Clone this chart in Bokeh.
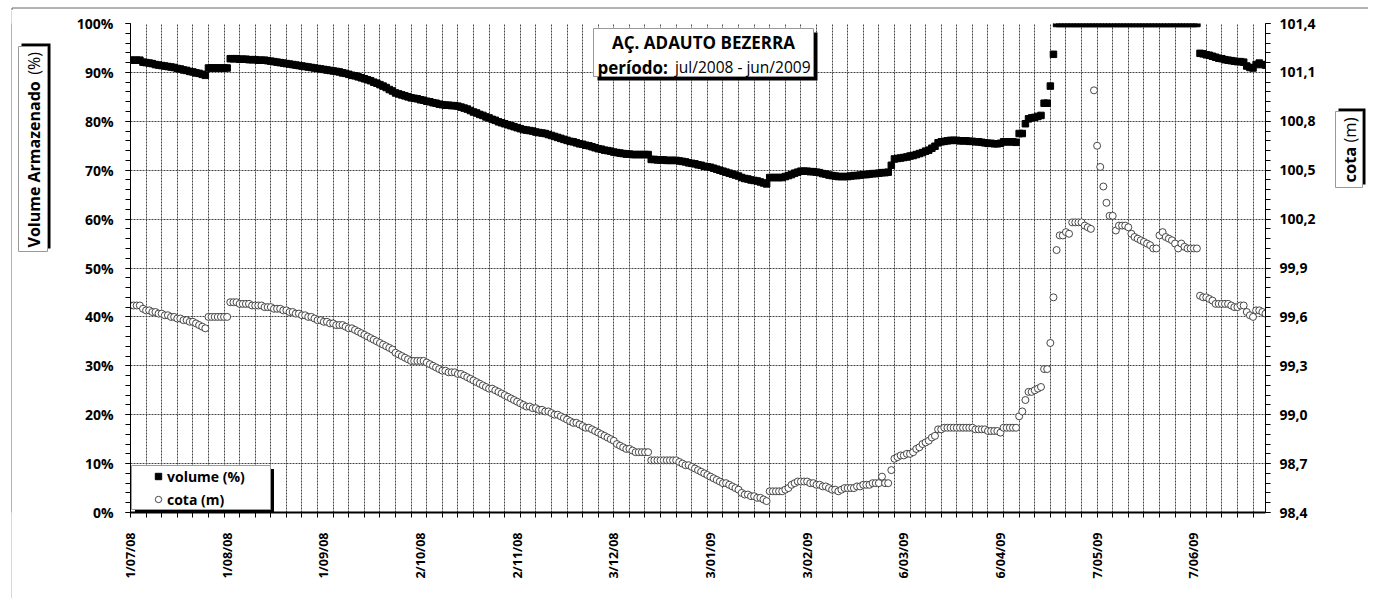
import math
from bokeh.plotting import figure
from bokeh.layouts import row, column
from bokeh.models import (Range1d, LinearAxis, FixedTicker, CustomJSTickFormatter,
                          BoxAnnotation, Label, Legend, LegendItem, Spacer)
from bokeh.embed import file_html
from bokeh.resources import INLINE

# ---------------- data ----------------
date_label_days = [0, 31, 62, 93, 124, 155, 186, 217, 248, 279, 310, 341]
date_labels = ["1/07/08", "1/08/08", "1/09/08", "2/10/08", "2/11/08", "3/12/08",
               "3/01/09", "3/02/09", "6/03/09", "6/04/09", "7/05/09", "7/06/09"]

volume_ticks = [0, 10, 20, 30, 40, 50, 60, 70, 80, 90, 100]
cota_ticks = [98.4, 98.7, 99.0, 99.3, 99.6, 99.9, 100.2, 100.5, 100.8, 101.1, 101.4]

# volume armazenado (%), one value per day from 1/07/08
volume = [
    92.5, 92.5, 92.5, 92.5, 92.1, 92.0, 91.9, 91.8, 91.6, 91.5,
    91.4, 91.3, 91.2, 91.1, 91.0, 90.8, 90.7, 90.5, 90.4, 90.2,
    90.1, 89.9, 89.8, 89.6, 89.4, 90.9, 90.9, 90.9, 90.9, 90.9,
    90.9, 90.9, 92.8, 92.8, 92.8, 92.7, 92.7, 92.7, 92.6, 92.6,
    92.6, 92.5, 92.5, 92.5, 92.4, 92.3, 92.2, 92.1, 92.0, 91.9,
    91.8, 91.7, 91.6, 91.5, 91.4, 91.3, 91.2, 91.1, 91.0, 90.9,
    90.8, 90.7, 90.6, 90.5, 90.4, 90.3, 90.2, 90.1, 89.9, 89.8,
    89.6, 89.4, 89.3, 89.1, 88.9, 88.7, 88.5, 88.3, 88.0, 87.8,
    87.5, 87.2, 86.9, 86.5, 86.2, 85.8, 85.6, 85.4, 85.2, 85.0,
    84.8, 84.7, 84.6, 84.4, 84.3, 84.1, 84.0, 83.8, 83.7, 83.5,
    83.4, 83.3, 83.3, 83.2, 83.2, 83.1, 82.9, 82.7, 82.5, 82.2,
    81.9, 81.7, 81.4, 81.2, 80.9, 80.7, 80.4, 80.2, 79.9, 79.7,
    79.5, 79.3, 79.1, 78.9, 78.7, 78.5, 78.3, 78.2, 78.1, 78.0,
    77.8, 77.7, 77.6, 77.5, 77.3, 77.1, 76.9, 76.7, 76.5, 76.3,
    76.1, 75.9, 75.8, 75.6, 75.4, 75.3, 75.1, 75.0, 74.8, 74.6,
    74.4, 74.3, 74.1, 74.0, 73.9, 73.7, 73.6, 73.5, 73.4, 73.3,
    73.3, 73.2, 73.2, 73.2, 73.2, 73.2, 73.2, 72.2, 72.2, 72.1,
    72.1, 72.1, 72.0, 72.0, 72.0, 72.0, 71.9, 71.8, 71.7, 71.5,
    71.4, 71.3, 71.1, 71.0, 70.8, 70.7, 70.6, 70.4, 70.2, 70.0,
    69.8, 69.6, 69.4, 69.2, 69.0, 68.8, 68.5, 68.3, 68.2, 68.0,
    67.9, 67.8, 67.6, 67.4, 67.2, 68.5, 68.5, 68.5, 68.5, 68.5,
    68.7, 68.9, 69.1, 69.4, 69.6, 69.8, 69.8, 69.8, 69.7, 69.7,
    69.6, 69.5, 69.3, 69.2, 69.0, 68.9, 68.8, 68.7, 68.7, 68.7,
    68.7, 68.8, 68.9, 68.9, 69.0, 69.1, 69.1, 69.2, 69.3, 69.3,
    69.4, 69.5, 69.5, 69.6, 71.0, 72.3, 72.4, 72.5, 72.6, 72.7,
    72.9, 73.0, 73.2, 73.4, 73.6, 73.9, 74.1, 74.5, 74.9, 75.6,
    75.8, 75.9, 76.0, 76.1, 76.1, 76.1, 76.0, 76.0, 76.0, 75.9,
    75.9, 75.8, 75.8, 75.7, 75.6, 75.5, 75.5, 75.4, 75.4, 75.5,
    75.8, 75.8, 75.8, 75.8, 75.7, 77.5, 77.5, 79.5, 80.5, 80.7,
    80.8, 81.0, 81.2, 83.7, 83.7, 87.2, 93.7, 100.0, 100.0, 100.0,
    100.0, 100.0, 100.0, 100.0, 100.0, 100.0, 100.0, 100.0, 100.0, 100.0,
    100.0, 100.0, 100.0, 100.0, 100.0, 100.0, 100.0, 100.0, 100.0, 100.0,
    100.0, 100.0, 100.0, 100.0, 100.0, 100.0, 100.0, 100.0, 100.0, 100.0,
    100.0, 100.0, 100.0, 100.0, 100.0, 100.0, 100.0, 100.0, 100.0, 100.0,
    100.0, 100.0, 100.0, 93.9, 93.8, 93.6, 93.5, 93.3, 93.1, 92.9,
    92.8, 92.6, 92.5, 92.4, 92.3, 92.2, 92.2, 92.1, 91.3, 91.0,
    90.9, 91.6, 91.9, 91.6, 91.5,
]

# cota (m), one value per day from 1/07/08
cota = [
    99.67, 99.67, 99.67, 99.67, 99.65, 99.64, 99.64, 99.63, 99.63, 99.62,
    99.62, 99.61, 99.61, 99.60, 99.60, 99.59, 99.59, 99.58, 99.58, 99.57,
    99.57, 99.56, 99.55, 99.54, 99.53, 99.60, 99.60, 99.60, 99.60, 99.60,
    99.60, 99.60, 99.69, 99.69, 99.69, 99.68, 99.68, 99.68, 99.68, 99.67,
    99.67, 99.67, 99.67, 99.66, 99.66, 99.66, 99.65, 99.65, 99.65, 99.64,
    99.64, 99.63, 99.63, 99.62, 99.62, 99.61, 99.61, 99.60, 99.60, 99.59,
    99.58, 99.58, 99.57, 99.57, 99.56, 99.56, 99.55, 99.55, 99.55, 99.54,
    99.53, 99.53, 99.52, 99.51, 99.50, 99.49, 99.48, 99.47, 99.46, 99.45,
    99.44, 99.43, 99.42, 99.41, 99.40, 99.38, 99.37, 99.36, 99.35, 99.34,
    99.33, 99.33, 99.33, 99.33, 99.33, 99.32, 99.31, 99.30, 99.29, 99.28,
    99.27, 99.27, 99.26, 99.26, 99.26, 99.25, 99.25, 99.24, 99.23, 99.22,
    99.21, 99.20, 99.19, 99.18, 99.17, 99.16, 99.16, 99.15, 99.14, 99.13,
    99.12, 99.11, 99.10, 99.09, 99.08, 99.07, 99.06, 99.05, 99.05, 99.04,
    99.04, 99.03, 99.03, 99.02, 99.02, 99.01, 99.00, 99.00, 98.99, 98.98,
    98.97, 98.96, 98.95, 98.95, 98.94, 98.93, 98.92, 98.92, 98.91, 98.90,
    98.89, 98.88, 98.87, 98.86, 98.85, 98.84, 98.82, 98.81, 98.80, 98.79,
    98.79, 98.78, 98.77, 98.77, 98.77, 98.77, 98.77, 98.72, 98.72, 98.72,
    98.72, 98.72, 98.72, 98.72, 98.72, 98.72, 98.71, 98.70, 98.69, 98.69,
    98.68, 98.67, 98.66, 98.65, 98.64, 98.63, 98.62, 98.61, 98.60, 98.59,
    98.58, 98.58, 98.57, 98.56, 98.55, 98.54, 98.52, 98.51, 98.51, 98.50,
    98.50, 98.49, 98.49, 98.48, 98.47, 98.53, 98.53, 98.53, 98.53, 98.53,
    98.54, 98.55, 98.57, 98.58, 98.59, 98.59, 98.59, 98.59, 98.58, 98.58,
    98.57, 98.57, 98.56, 98.56, 98.55, 98.54, 98.54, 98.53, 98.54, 98.55,
    98.55, 98.55, 98.55, 98.56, 98.56, 98.57, 98.57, 98.57, 98.58, 98.58,
    98.58, 98.62, 98.58, 98.58, 98.66, 98.73, 98.74, 98.75, 98.75, 98.76,
    98.76, 98.77, 98.79, 98.80, 98.82, 98.83, 98.84, 98.86, 98.87, 98.91,
    98.91, 98.92, 98.92, 98.92, 98.92, 98.92, 98.92, 98.92, 98.92, 98.92,
    98.92, 98.91, 98.91, 98.91, 98.91, 98.90, 98.90, 98.90, 98.90, 98.89,
    98.92, 98.92, 98.92, 98.92, 98.92, 98.99, 99.02, 99.09, 99.14, 99.14,
    99.15, 99.16, 99.17, 99.28, 99.28, 99.44, 99.72, 100.01, 100.10, 100.10,
    100.12, 100.11, 100.18, 100.18, 100.18, 100.18, 100.16, 100.15, 100.14, 100.99,
    100.65, 100.52, 100.40, 100.30, 100.22, 100.22, 100.13, 100.16, 100.16, 100.16,
    100.15, 100.11, 100.09, 100.08, 100.07, 100.06, 100.05, 100.04, 100.02, 100.02,
    100.10, 100.12, 100.09, 100.08, 100.07, 100.05, 100.02, 100.05, 100.03, 100.02,
    100.02, 100.02, 100.02, 99.73, 99.72, 99.72, 99.71, 99.70, 99.68, 99.68,
    99.68, 99.68, 99.68, 99.67, 99.66, 99.66, 99.67, 99.67, 99.63, 99.61,
    99.60, 99.64, 99.64, 99.63, 99.62,
]

days = list(range(len(volume)))
N = 364

# ---------------- layout (page pixels) ----------------
TOTAL_W, TOTAL_H = 1368, 598
TOP_H = 10                     # strip above everything (outer border line)
PAD_W = 11                     # empty space left of the outer border
LINE_X = 11                    # outer border (1 px)
LEFT_X0, LEFT_X1 = 12, 60      # left strip (y axis title)
RIGHT_X = 1320                 # right strip starts here (cota title)
PX_L, PX_R, PY_T, PY_B = 130, 1265, 23, 512   # plot frame edges on the page
ROW_H = TOTAL_H - TOP_H
FONT = "Open Sans"
BORDER = "#666666"


def xd(px):   # page x -> day
    return (px - PX_L) / (PX_R - PX_L) * N


def yd(py):   # page y -> volume %
    return (PY_B - py) / (PY_B - PY_T) * 100.0


def blank(width, height, x0, x1, y_top, y_bottom, top_border, bottom_border, fill="white"):
    f = figure(width=width, height=height, output_backend="svg", toolbar_location=None,
               x_range=Range1d(x0, x1), y_range=Range1d(y_bottom, y_top),
               x_axis_location=None, y_axis_location=None,
               min_border_left=0, min_border_right=0,
               min_border_top=top_border, min_border_bottom=bottom_border,
               outline_line_color=None, background_fill_color=fill,
               border_fill_color=fill)
    f.xgrid.visible = False
    f.ygrid.visible = False
    return f


def label(fig, x, y, text, size, style="bold", align="center", angle=0.0):
    fig.add_layout(Label(x=x, y=y, text=text, text_font=FONT,
                         text_font_size=f"{size}px", text_font_style=style,
                         text_align=align, text_baseline="middle", angle=angle,
                         text_color="black"))


def shadow_box(fig, l, t, r, b, dx, dy):
    fig.quad(left=l + dx, right=r + dx, top=t + dy, bottom=b + dy,
             fill_color="black", line_color=None)
    fig.quad(left=l, right=r, top=t, bottom=b, fill_color="white",
             line_color="#999999", line_width=1)


# ---- top strip (outer border, top edge) ----
top = blank(TOTAL_W, TOP_H, 0, TOTAL_W, 0, TOP_H, 0, 0)
top.line([LINE_X + 0.5, LINE_X + 0.5, TOTAL_W], [TOP_H, 5.5, 5.5],
         line_color=BORDER, line_width=1)

# ---- outer border, left edge ----
vline = blank(1, ROW_H, 0, 1, 0, 1, 0, 0, fill=BORDER)

# ---- left strip (same frame height as the chart) ----
left = blank(LEFT_X1 - LEFT_X0, ROW_H, LEFT_X0, LEFT_X1, PY_T, PY_B,
             PY_T - TOP_H, TOTAL_H - PY_B)
shadow_box(left, 18, 46, 47, 251, 3, -3)
label(left, 33, 247, "Volume Armazenado", 16, "bold", "left", math.pi / 2)
label(left, 33, 51.5, "(%)", 16, "normal", "right", math.pi / 2)

# ---- right strip ----
right = blank(TOTAL_W - RIGHT_X, ROW_H, RIGHT_X, TOTAL_W, PY_T, PY_B,
              PY_T - TOP_H, TOTAL_H - PY_B)
shadow_box(right, 1335, 111, 1362, 187, 3, -3)
label(right, 1348.5, 182, "cota", 16.5, "bold", "left", math.pi / 2)
label(right, 1348.5, 117, "(m)", 16.5, "normal", "right", math.pi / 2)

# ---- main chart ----
MW = RIGHT_X - LEFT_X1
p = figure(width=MW, height=ROW_H, output_backend="svg", toolbar_location=None,
           x_range=Range1d(0, N), y_range=Range1d(0, 100),
           min_border_left=PX_L - LEFT_X1, min_border_right=RIGHT_X - PX_R,
           min_border_top=PY_T - TOP_H, min_border_bottom=TOTAL_H - PY_B,
           outline_line_color=None, background_fill_color="white",
           border_fill_color="white")
p.extra_y_ranges = {"cota": Range1d(98.4, 101.4)}

# x axis
xa = p.xaxis[0]
xa.ticker = FixedTicker(ticks=date_label_days, minor_ticks=list(range(0, N + 1, 5)))
xa.major_label_overrides = {d: s for d, s in zip(date_label_days, date_labels)}
xa.major_label_orientation = math.pi / 2
xa.major_tick_out = 0
xa.major_tick_in = 0
xa.minor_tick_out = 5
xa.minor_tick_in = 0
xa.major_label_standoff = 15
xa.axis_line_width = 2
xa.axis_line_color = "black"
xa.minor_tick_line_color = "black"
xa.major_label_text_font = FONT
xa.major_label_text_font_style = "bold"
xa.major_label_text_font_size = "12.5px"
xa.major_label_text_color = "black"

# left axis
ya = p.yaxis[0]
ya.ticker = FixedTicker(ticks=volume_ticks, minor_ticks=list(range(0, 101, 2)))
ya.formatter = CustomJSTickFormatter(code="return tick.toFixed(0) + '%';")
ya.major_tick_out = 5
ya.major_tick_in = 0
ya.minor_tick_out = 5
ya.minor_tick_in = 0
ya.major_label_standoff = 12
ya.axis_line_color = "black"
ya.major_tick_line_color = "black"
ya.minor_tick_line_color = "black"
ya.major_label_text_font = FONT
ya.major_label_text_font_style = "bold"
ya.major_label_text_font_size = "14px"
ya.major_label_text_color = "black"

# right axis
ra = LinearAxis(y_range_name="cota",
                ticker=FixedTicker(ticks=cota_ticks,
                                   minor_ticks=[round(98.4 + 0.06 * k, 2) for k in range(51)]),
                formatter=CustomJSTickFormatter(code="return tick.toFixed(1).replace('.', ',');"))
ra.major_tick_out = 5
ra.major_tick_in = 0
ra.minor_tick_out = 5
ra.minor_tick_in = 0
ra.major_label_standoff = 9
ra.axis_line_color = "black"
ra.major_tick_line_color = "black"
ra.minor_tick_line_color = "black"
ra.major_label_text_font = FONT
ra.major_label_text_font_style = "bold"
ra.major_label_text_font_size = "14px"
ra.major_label_text_color = "black"
p.add_layout(ra, "right")

# grid
p.xgrid.ticker = FixedTicker(ticks=list(range(0, N + 1, 5)))
p.ygrid.ticker = FixedTicker(ticks=volume_ticks)
for g in (p.xgrid, p.ygrid):
    g.grid_line_color = "#444444"
    g.grid_line_dash = "2 1"
    g.grid_line_width = 1
    g.grid_line_alpha = 1

# data
r_vol = p.scatter(days, volume, marker="square", size=6.5,
                  fill_color="black", line_color="black")
r_cota = p.scatter(days, cota, y_range_name="cota", marker="circle", size=7,
                   fill_color="white", line_color="#333333", line_width=0.9)


def main_box(l, t, r, b, dx, dy):
    p.add_layout(BoxAnnotation(left=xd(l + dx), right=xd(r + dx),
                               top=yd(t + dy), bottom=yd(b + dy),
                               fill_color="black", fill_alpha=1, line_color=None))
    p.add_layout(BoxAnnotation(left=xd(l), right=xd(r), top=yd(t), bottom=yd(b),
                               fill_color="white", fill_alpha=1,
                               line_color="#999999", line_alpha=1, line_width=1))


def main_label(x, y, text, size, style="bold", align="center"):
    p.add_layout(Label(x=xd(x), y=yd(y), text=text, text_font=FONT,
                       text_font_size=f"{size}px", text_font_style=style,
                       text_align=align, text_baseline="middle", text_color="black"))


main_box(593, 28, 813, 76, 4, 4)          # title box
main_box(131, 465, 270, 509, 3.5, 3.5)    # legend box

legend = Legend(items=[LegendItem(label="volume (%)", renderers=[r_vol]),
                       LegendItem(label="cota (m)", renderers=[r_cota])],
                location=(20, 3), orientation="vertical", padding=0, margin=0,
                spacing=3, glyph_width=16, glyph_height=20, label_height=20,
                label_standoff=1, background_fill_alpha=0, border_line_color=None,
                label_text_font=FONT, label_text_font_style="bold",
                label_text_font_size="14px", label_text_color="black")
p.add_layout(legend)

main_label(703, 42, "AÇ. ADAUTO BEZERRA", 17, "bold", "center")
main_label(597, 66.5, "período:", 17, "bold", "left")
main_label(810, 66.5, "jul/2008 - jun/2009", 15.5, "normal", "right")

layout = column(top,
                row(Spacer(width=PAD_W, height=ROW_H), vline, left, p, right, spacing=0),
                spacing=0)
open("out.html", "w").write(file_html(layout, INLINE))
